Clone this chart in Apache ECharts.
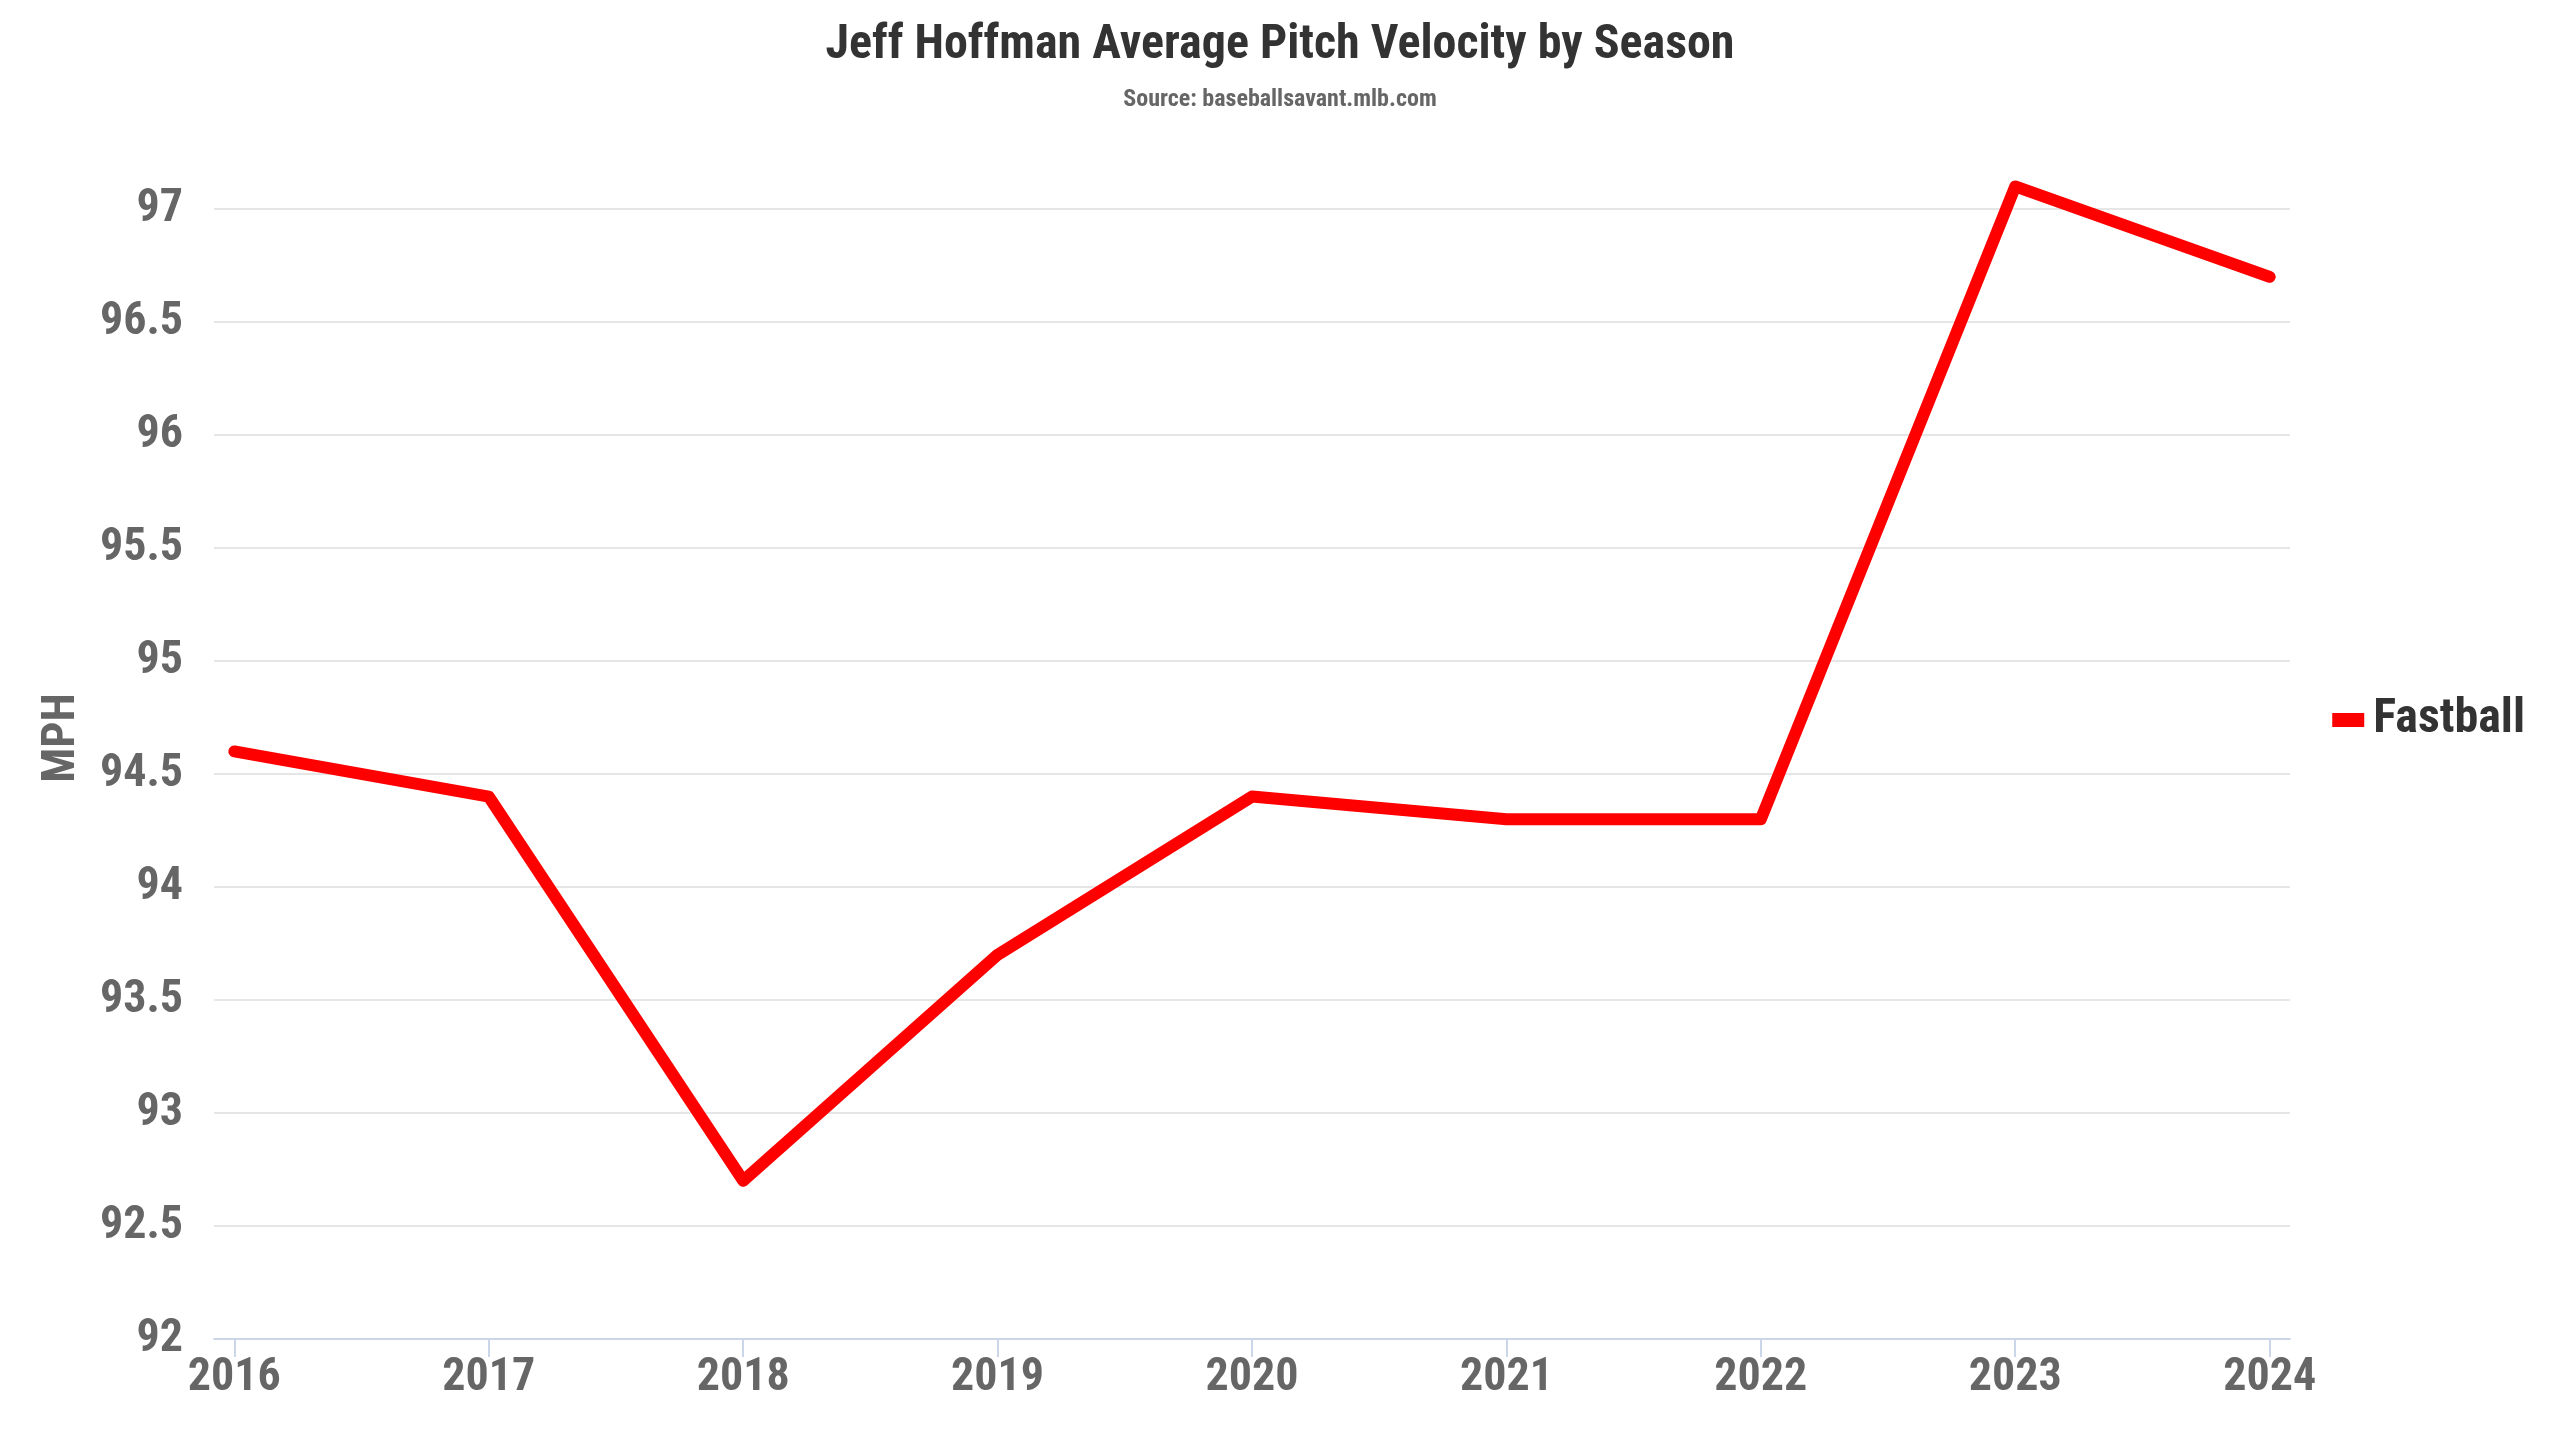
<!DOCTYPE html>
<html>
<head>
<meta charset="utf-8">
<title>Jeff Hoffman Average Pitch Velocity by Season</title>
<script src="https://cdn.jsdelivr.net/npm/echarts@6/dist/echarts.min.js"></script>
<style>
  html, body { margin: 0; padding: 0; background: #fff; }
  #chart { width: 2560px; height: 1440px; }
</style>
</head>
<body>
<div id="chart"></div>
<script>
// 数据
const seasons = [2016, 2017, 2018, 2019, 2020, 2021, 2022, 2023, 2024];
const fastball = [94.6, 94.4, 92.7, 93.7, 94.4, 94.3, 94.3, 97.1, 96.7];
const yTicks = [92, 92.5, 93, 93.5, 94, 94.5, 95, 95.5, 96, 96.5, 97];

const FONT = "'Roboto Condensed', 'Liberation Sans Narrow', 'DejaVu Sans Condensed', sans-serif";

// [年份, 速度]
const lineData = [];
for (let i = 0; i < seasons.length; i++) {
    lineData.push([seasons[i], fastball[i]]);
}

const chart = echarts.init(document.getElementById('chart'));

const option = {
    backgroundColor: '#ffffff',
    animation: false,
    textStyle: { fontFamily: FONT },
    title: {
        text: 'Jeff Hoffman Average Pitch Velocity by Season',
        subtext: 'Source: baseballsavant.mlb.com',
        left: 'center',
        top: 17,
        itemGap: 18,
        textStyle: { color: '#333333', fontSize: 48, fontWeight: 'bold', fontFamily: FONT },
        subtextStyle: { color: '#666666', fontSize: 24, fontWeight: 'bold', fontFamily: FONT }
    },
    legend: {
        data: ['Fastball'],
        orient: 'vertical',
        right: 30,
        top: 'middle',
        icon: 'rect',
        itemWidth: 32,
        itemHeight: 14,
        textStyle: { color: '#333333', fontSize: 48, fontWeight: 'bold', fontFamily: FONT, padding: [0, 0, 0, 4] }
    },
    grid: {
        left: 214,
        right: 270,
        top: 209,
        bottom: 101
    },
    xAxis: {
        type: 'value',
        min: seasons[0] - 0.08,
        max: seasons[seasons.length - 1] + 0.08,
        axisLine: { show: true, lineStyle: { color: '#ccd6eb', width: 2 } },
        axisTick: {
            show: true,
            customValues: seasons,
            length: 18,
            lineStyle: { color: '#ccd6eb', width: 2 }
        },
        axisLabel: {
            customValues: seasons,
            color: '#666666',
            fontSize: 46,
            fontWeight: 'bold',
            fontFamily: FONT,
            margin: 16,
            formatter: function(v) { return String(v); }
        },
        splitLine: { show: false }
    },
    yAxis: {
        type: 'value',
        min: yTicks[0],
        max: yTicks[yTicks.length - 1],
        interval: 0.5,
        name: 'MPH',
        nameLocation: 'middle',
        nameGap: 129,
        nameRotate: 90,
        nameTextStyle: {
            color: '#666666',
            fontSize: 46,
            fontWeight: 'bold',
            fontFamily: FONT,
            padding: [0, 0, 0, 72]
        },
        axisLine: { show: false },
        axisTick: { show: false },
        axisLabel: {
            color: '#666666',
            fontSize: 46,
            fontWeight: 'bold',
            fontFamily: FONT,
            margin: 31
        },
        splitLine: { lineStyle: { color: '#e6e6e6', width: 2 } }
    },
    series: [
        {
            name: 'Fastball',
            type: 'line',
            data: lineData,
            showSymbol: false,
            symbol: 'none',
            clip: false,
            itemStyle: { color: '#ff0000' },
            lineStyle: { color: '#ff0000', width: 12, cap: 'round', join: 'round' }
        }
    ]
};

chart.setOption(option);
</script>
</body>
</html>
